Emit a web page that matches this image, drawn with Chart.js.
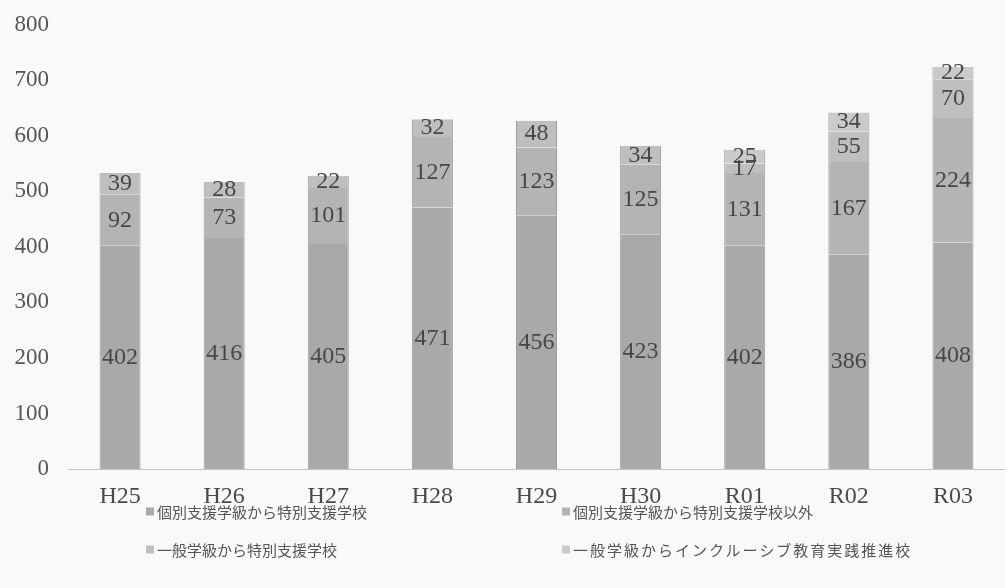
<!DOCTYPE html>
<html lang="ja">
<head>
<meta charset="utf-8">
<script src="https://cdn.jsdelivr.net/npm/chart.js@4"></script>
<style>
  html, body { margin: 0; padding: 0; background: #f9f9f8; }
  #wrap { position: relative; width: 1005px; height: 588px; }
  #chart { position: absolute; left: 0; top: 0; }
  #legend { position: absolute; left: 0; top: 0; width: 1005px; height: 588px; pointer-events: none;
            font-family: "Noto Sans CJK JP", sans-serif; font-size: 15px; color: #555; }
  .item { position: absolute; display: flex; align-items: center; white-space: nowrap; transform: translateY(-50%); }
  .box { width: 8px; height: 8px; margin-right: 3px; }
</style>
</head>
<body>
<div id="wrap">
  <canvas id="chart" width="1005" height="588"></canvas>
  <div id="legend"></div>
</div>
<script>
// 年度
const years = ['H25', 'H26', 'H27', 'H28', 'H29', 'H30', 'R01', 'R02', 'R03'];

// 転学先別の人数（積み上げ順）
const kobetsuToTokushi   = [402, 416, 405, 471, 456, 423, 402, 386, 408];
const kobetsuToOther     = [92, 73, 101, 127, 123, 125, 131, 167, 224];
const ippanToTokushi     = [39, 28, 22, 32, 48, 34, 17, 55, 70];
const ippanToInclusive   = [null, null, null, null, null, null, 25, 34, 22];

const seriesNames = [
  '個別支援学級から特別支援学校',
  '個別支援学級から特別支援学校以外',
  '一般学級から特別支援学校',
  '一般学級からインクルーシブ教育実践推進校'
];

const yTicks = [0, 100, 200, 300, 400, 500, 600, 700, 800];

const fills = ['#a9a9a9', '#b4b4b4', '#bfbfbf', '#cacaca'];
const seriesData = [kobetsuToTokushi, kobetsuToOther, ippanToTokushi, ippanToInclusive];

const serif = '"Liberation Serif", "Times New Roman", serif';

// 各区間の中央に人数を描く
const segmentLabels = {
  id: 'segmentLabels',
  afterDatasetsDraw(chart) {
    const ctx = chart.ctx;
    ctx.save();
    ctx.font = '24px ' + serif;
    ctx.fillStyle = '#474747';
    ctx.textAlign = 'center';
    ctx.textBaseline = 'middle';
    chart.data.datasets.forEach((ds, di) => {
      const meta = chart.getDatasetMeta(di);
      meta.data.forEach((bar, i) => {
        const v = ds.data[i];
        if (v == null) return;
        const p = bar.getProps(['x', 'y', 'base'], true);
        ctx.fillText(String(v), p.x, (p.y + p.base) / 2);
      });
    });
    ctx.restore();
  }
};

const chart = new Chart(document.getElementById('chart'), {
  type: 'bar',
  data: {
    labels: years,
    datasets: seriesData.map((d, i) => ({
      label: seriesNames[i],
      data: d,
      backgroundColor: fills[i],
      borderColor: '#9c9c9c',
      borderWidth: { left: 1, right: 1, top: 0, bottom: 0 },
      borderSkipped: false,
      barPercentage: 0.394,
      categoryPercentage: 1.0
    }))
  },
  options: {
    responsive: false,
    animation: false,
    layout: { padding: { top: 5, right: 0, bottom: 0, left: 0 } },
    plugins: {
      legend: { display: false },
      tooltip: { enabled: false }
    },
    scales: {
      x: {
        stacked: true,
        grid: { display: true, drawOnChartArea: false, drawTicks: false },
        border: { display: true, color: '#c4c4c4', width: 1 },
        ticks: { color: '#4a4a4a', font: { family: serif, size: 24 }, padding: 13 },
        afterFit(scale) { scale.height = 119; }
      },
      y: {
        stacked: true,
        min: 0,
        max: 800,
        afterBuildTicks(scale) { scale.ticks = yTicks.map(v => ({ value: v })); },
        grid: { display: false },
        border: { display: false },
        ticks: { color: '#555', font: { family: serif, size: 23 }, padding: 11 },
        afterFit(scale) { scale.width = 68; }
      }
    }
  },
  plugins: [segmentLabels]
});

// 凡例（2列×2行）
const legendEl = document.getElementById('legend');
const legendSlots = [
  { left: 146, top: 511, spacing: 0 },
  { left: 562, top: 511, spacing: 0 },
  { left: 146, top: 549, spacing: 0 },
  { left: 562, top: 549, spacing: 2 }
];
chart.data.datasets.forEach((ds, i) => {
  const item = document.createElement('div');
  item.className = 'item';
  item.style.left = legendSlots[i].left + 'px';
  item.style.top = legendSlots[i].top + 'px';
  const box = document.createElement('span');
  box.className = 'box';
  box.style.background = ds.backgroundColor;
  const txt = document.createElement('span');
  txt.textContent = ds.label;
  txt.style.letterSpacing = legendSlots[i].spacing + 'px';
  item.appendChild(box);
  item.appendChild(txt);
  legendEl.appendChild(item);
});
</script>
</body>
</html>
